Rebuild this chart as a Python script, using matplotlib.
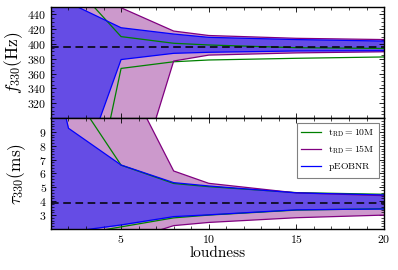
import matplotlib
matplotlib.use("Agg")
import matplotlib.pyplot as plt
from matplotlib.ticker import MultipleLocator, AutoMinorLocator

plt.rcParams['font.family'] = 'serif'
plt.rcParams['font.serif'] = ['cmr10']
plt.rcParams['mathtext.fontset'] = 'cm'
plt.rcParams['axes.formatter.use_mathtext'] = True
plt.rcParams['axes.unicode_minus'] = False

loudness = [1, 2, 5, 8, 10, 15, 20]

# frequency bands (Hz)
f_blue_up = [490, 456, 422, 413.5, 409, 406, 404]
f_blue_lo = [100, 181, 379, 387.4, 388.8, 390.6, 391]
f_green_up = [520, 488, 410, 401, 398.7, 395, 394]
f_green_lo = [0, 31, 367, 376, 378.4, 380.7, 382.5]
f_purple_up = [600, 520, 449, 417.5, 411.5, 407.7, 406]
f_purple_lo = [-50, 0, 146, 377, 385, 388, 389.5]
f_true = 396.4

# damping time bands (ms)
t_blue_up = [14.7, 9.26, 6.61, 5.34, 5.10, 4.6, 4.45]
t_blue_lo = [1.5, 1.78, 2.29, 2.89, 3.02, 3.38, 3.44]
t_green_up = [14.0, 12.3, 6.6, 5.28, 5.05, 4.62, 4.5]
t_green_lo = [1.2, 1.5, 2.15, 2.8, 3.0, 3.36, 3.46]
t_purple_up = [20.0, 18.0, 13.6, 6.18, 5.29, 4.6, 4.4]
t_purple_lo = [0.5, 0.8, 1.04, 2.24, 2.47, 2.81, 3.0]
t_true = 3.85

labels = [r'$\mathrm{t_{RD}=10M}$', r'$\mathrm{t_{RD}=15M}$', r'$\mathrm{pEOBNR}$']

fig = plt.figure(figsize=(3.98, 2.70), dpi=100)
ax1 = fig.add_axes([0.128, 0.563, 0.837, 0.411])
ax2 = fig.add_axes([0.128, 0.152, 0.837, 0.411])

def draw(ax, g_up, g_lo, p_up, p_lo, b_up, b_lo, truth):
    ax.fill_between(loudness, p_lo, p_up, color='purple', alpha=0.4, lw=0)
    ax.fill_between(loudness, b_lo, b_up, color='blue', alpha=0.5, lw=0)
    ax.plot(loudness, g_up, color='green', lw=0.9, label=labels[0])
    ax.plot(loudness, g_lo, color='green', lw=0.9)
    ax.plot(loudness, p_up, color='purple', lw=0.9, label=labels[1])
    ax.plot(loudness, p_lo, color='purple', lw=0.9)
    ax.plot(loudness, b_up, color='blue', lw=0.9, label=labels[2])
    ax.plot(loudness, b_lo, color='blue', lw=0.9)
    ax.axhline(truth, color='black', ls='--', lw=1.1, dashes=(5, 3))
    ax.set_xlim(1, 20)
    ax.xaxis.set_major_locator(MultipleLocator(5))
    ax.xaxis.set_minor_locator(MultipleLocator(1))
    ax.yaxis.set_minor_locator(AutoMinorLocator(4))
    ax.tick_params(which='both', direction='in', top=True, right=True, labelsize=8.5, pad=3)
    ax.tick_params(which='major', length=3.5, width=0.6)
    ax.tick_params(which='minor', length=2, width=0.5)
    for s in ax.spines.values():
        s.set_linewidth(1.0)

draw(ax1, f_green_up, f_green_lo, f_purple_up, f_purple_lo, f_blue_up, f_blue_lo, f_true)
ax1.set_ylim(300, 450)
ax1.set_yticks([320, 340, 360, 380, 400, 420, 440])
ax1.tick_params(labelbottom=False)
ax1.set_ylabel(r'$f_{330}(\mathrm{Hz})$', fontsize=12.5, labelpad=2)

draw(ax2, t_green_up, t_green_lo, t_purple_up, t_purple_lo, t_blue_up, t_blue_lo, t_true)
ax2.set_ylim(2, 10)
ax2.set_yticks([3, 4, 5, 6, 7, 8, 9])
ax2.yaxis.set_minor_locator(AutoMinorLocator(5))
ax2.set_ylabel(r'$\tau_{330}(\mathrm{ms})$', fontsize=12.5, labelpad=8)
ax2.set_xlabel('loudness', fontsize=11, labelpad=1)
leg = ax2.legend(loc='upper right', fontsize=7, fancybox=False, framealpha=1,
                 edgecolor='gray', handlelength=2.0, borderpad=0.45, labelspacing=0.5)
leg.get_frame().set_linewidth(0.8)

fig.savefig('out.png', dpi=100)
